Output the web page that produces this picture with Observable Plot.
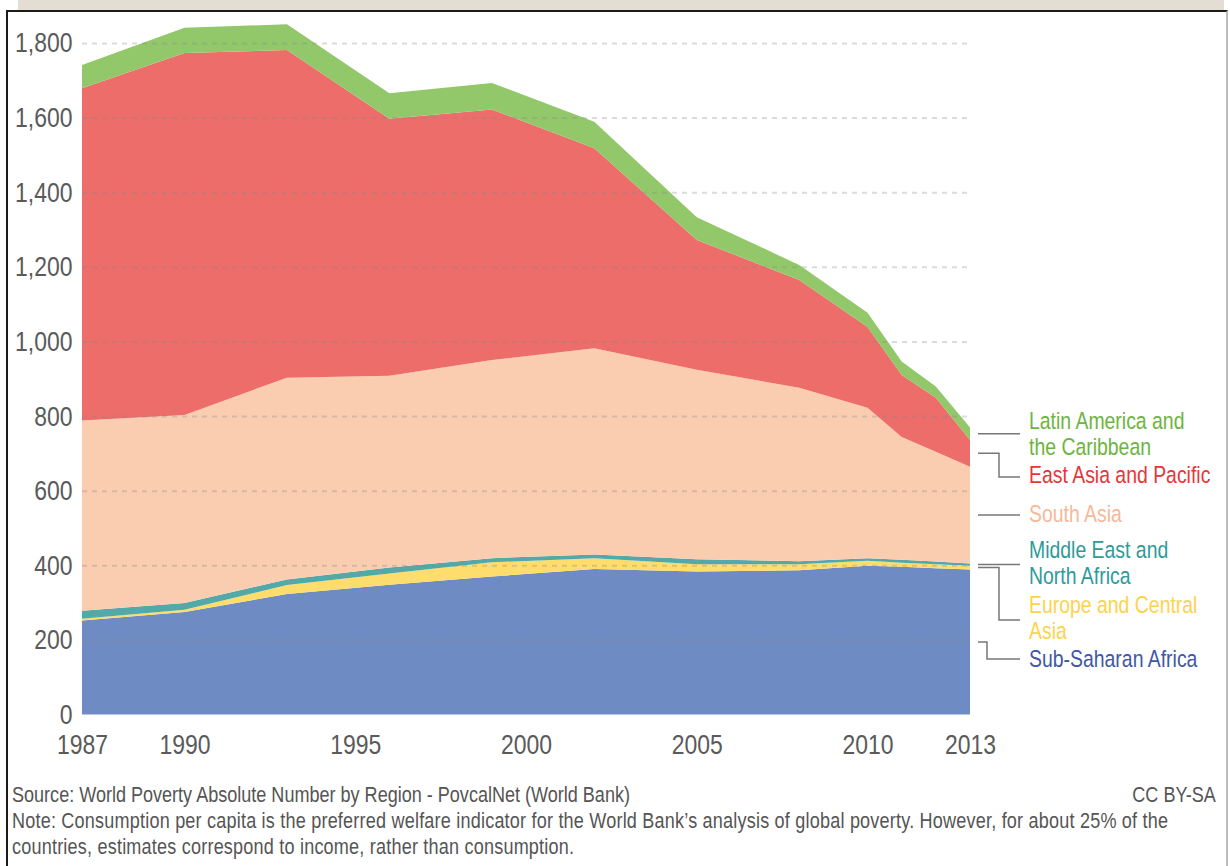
<!DOCTYPE html>
<html><head><meta charset="utf-8">
<script src="https://cdn.jsdelivr.net/npm/d3@7"></script>
<script src="https://cdn.jsdelivr.net/npm/@observablehq/plot@0.6"></script>
<style>
html,body{margin:0;padding:0;background:#fff;width:1230px;height:866px;overflow:hidden;font-family:"Liberation Sans",Arial,sans-serif;}
#band{position:absolute;left:18px;top:0;width:1206px;height:10px;background:#e4ddd3;}
#frame{position:absolute;left:6px;top:10px;width:1222px;height:870px;border-left:2px solid #1b1b1b;border-top:2px solid #1b1b1b;border-right:2px solid #bbb;box-sizing:border-box;}
#chart{position:absolute;left:0;top:0;}
#overlay{position:absolute;left:0;top:0;}
.foot{position:absolute;font-size:22px;color:#555;line-height:26px;white-space:nowrap;transform:scaleX(0.82);transform-origin:left top;}
</style></head><body>
<div id="band"></div>
<div id="frame"></div>
<div id="chart"></div>
<svg id="overlay" width="1230" height="770"></svg>
<div class="foot" style="left:12px;top:782px;">Source: World Poverty Absolute Number by Region - PovcalNet (World Bank)</div>
<div class="foot" style="right:14px;top:782px;transform-origin:right top;">CC BY-SA</div>
<div class="foot" style="left:12px;top:808px;letter-spacing:0.25px;">Note: Consumption per capita is the preferred welfare indicator for the World Bank’s analysis of global poverty. However, for about 25% of the<br>countries, estimates correspond to income, rather than consumption.</div>
<script>
// ---- data (millions of people living in extreme poverty) ----
const years = [1987, 1990, 1993, 1996, 1999, 2002, 2005, 2008, 2010, 2011, 2012, 2013];
const subSaharanAfrica      = [252, 275, 323, 348, 370, 390, 383, 387, 399, 396, 392, 389];
const europeCentralAsia     = [5, 6, 24, 30, 38, 29, 20, 16, 13, 11, 11, 10];
const middleEastNorthAfrica = [21, 18, 15, 16, 11, 10, 13, 8, 7, 8, 7, 6];
const southAsia             = [510, 504, 541, 514, 531, 553, 508, 465, 403, 329, 294, 259];
const eastAsiaPacific       = [891, 970, 878, 689, 672, 536, 348, 289, 217, 166, 145, 72];
const latinAmericaCaribbean = [62, 68, 69, 68, 71, 71, 61, 40, 38, 36, 30, 33];

const regions = ["Sub-Saharan Africa", "Europe and Central Asia", "Middle East and North Africa",
                 "South Asia", "East Asia and Pacific", "Latin America and the Caribbean"];
const regionLabels = [["Sub-Saharan Africa"], ["Europe and Central", "Asia"], ["Middle East and", "North Africa"],
                      ["South Asia"], ["East Asia and Pacific"], ["Latin America and", "the Caribbean"]];
const fillColors = ["#6e8cc3", "#fedd6c", "#52a9a7", "#facdb0", "#ec6d6a", "#92c76a"];
const textColors = ["#3f57a8", "#fdd34c", "#2e9b9a", "#f6b998", "#e8343b", "#6cb540"];
const xTicks = [1987, 1990, 1995, 2000, 2005, 2010, 2013];
const yTicks = [0, 200, 400, 600, 800, 1000, 1200, 1400, 1600, 1800];

const series = [subSaharanAfrica, europeCentralAsia, middleEastNorthAfrica, southAsia, eastAsiaPacific, latinAmericaCaribbean];
const data = [];
regions.forEach((r, i) => years.forEach((y, j) => data.push({year: y, region: r, value: series[i][j]})));

const K = 0.82; // horizontal condensing to mimic a narrow typeface
const chart = Plot.plot({
  width: 1230, height: 770,
  marginLeft: 82, marginRight: 260, marginTop: 43, marginBottom: 55.5,
  style: {fontFamily: '"Liberation Sans",Arial,sans-serif', fontSize: "28px", color: "#5a5a5a", background: "transparent", overflow: "visible"},
  x: {domain: [1987, 2013]},
  y: {domain: [0, 1800]},
  color: {domain: regions, range: fillColors},
  marks: [
    Plot.areaY(data, {x: "year", y: "value", z: "region", fill: "region", order: regions}),
    Plot.gridY(yTicks.filter(d => d > 0), {stroke: "#888", strokeOpacity: 0.3, strokeWidth: 2, strokeDasharray: "5,5"}),
    Plot.axisY(yTicks, {tickSize: 0, tickPadding: 10, tickFormat: d3.format(","), label: null}),
    Plot.axisX(xTicks, {tickSize: 0, tickPadding: 19, tickFormat: d => String(d), label: null})
  ]
});
document.getElementById("chart").appendChild(chart);

// condense axis tick labels horizontally
function condense(t, k) {
  for (const a of ["x", "dx"]) {
    const v = t.getAttribute(a);
    if (v != null && v !== "" && !isNaN(parseFloat(v))) t.setAttribute(a, parseFloat(v) / k);
  }
  const tr = t.getAttribute("transform") || "";
  t.setAttribute("transform", (tr + ` scale(${k},1)`).trim());
}
chart.querySelectorAll('g[aria-label="x-axis tick label"] text, g[aria-label="y-axis tick label"] text').forEach(t => condense(t, K));

// ---- right-side labels with connectors ----
const xS = chart.scale("x"), yS = chart.scale("y");
const last = years.length - 1;
let base = 0;
const mids = series.map(s => { const m = base + s[last] / 2; base += s[last]; return yS.apply(m); });
const x0 = xS.apply(2013) + 8, xEnd = 1020, xText = 1029;
const labelBaselines = [667, 613, 558, 522, 483, 429];
const connectorEnds = [659, 620, null, null, 477, null];
const elbowX = [987, 999, null, null, 999, null];
const ov = d3.select("#overlay");
series.forEach((s, i) => {
  let pts;
  if (connectorEnds[i] == null) pts = [[x0, mids[i]], [xEnd, mids[i]]];
  else pts = [[x0, mids[i]], [elbowX[i], mids[i]], [elbowX[i], connectorEnds[i]], [xEnd, connectorEnds[i]]];
  ov.append("path").attr("d", d3.line()(pts)).attr("fill", "none").attr("stroke", "#777").attr("stroke-width", 1.5);
  const t = ov.append("text")
    .attr("transform", `translate(${xText},${labelBaselines[i]}) scale(${K},1)`)
    .attr("fill", textColors[i]).attr("font-size", 23.7)
    .attr("font-family", '"Liberation Sans",Arial,sans-serif');
  regionLabels[i].forEach((ln, k) => t.append("tspan").attr("x", 0).attr("dy", k === 0 ? 0 : 26.5).text(ln));
});
</script>
</body></html>
